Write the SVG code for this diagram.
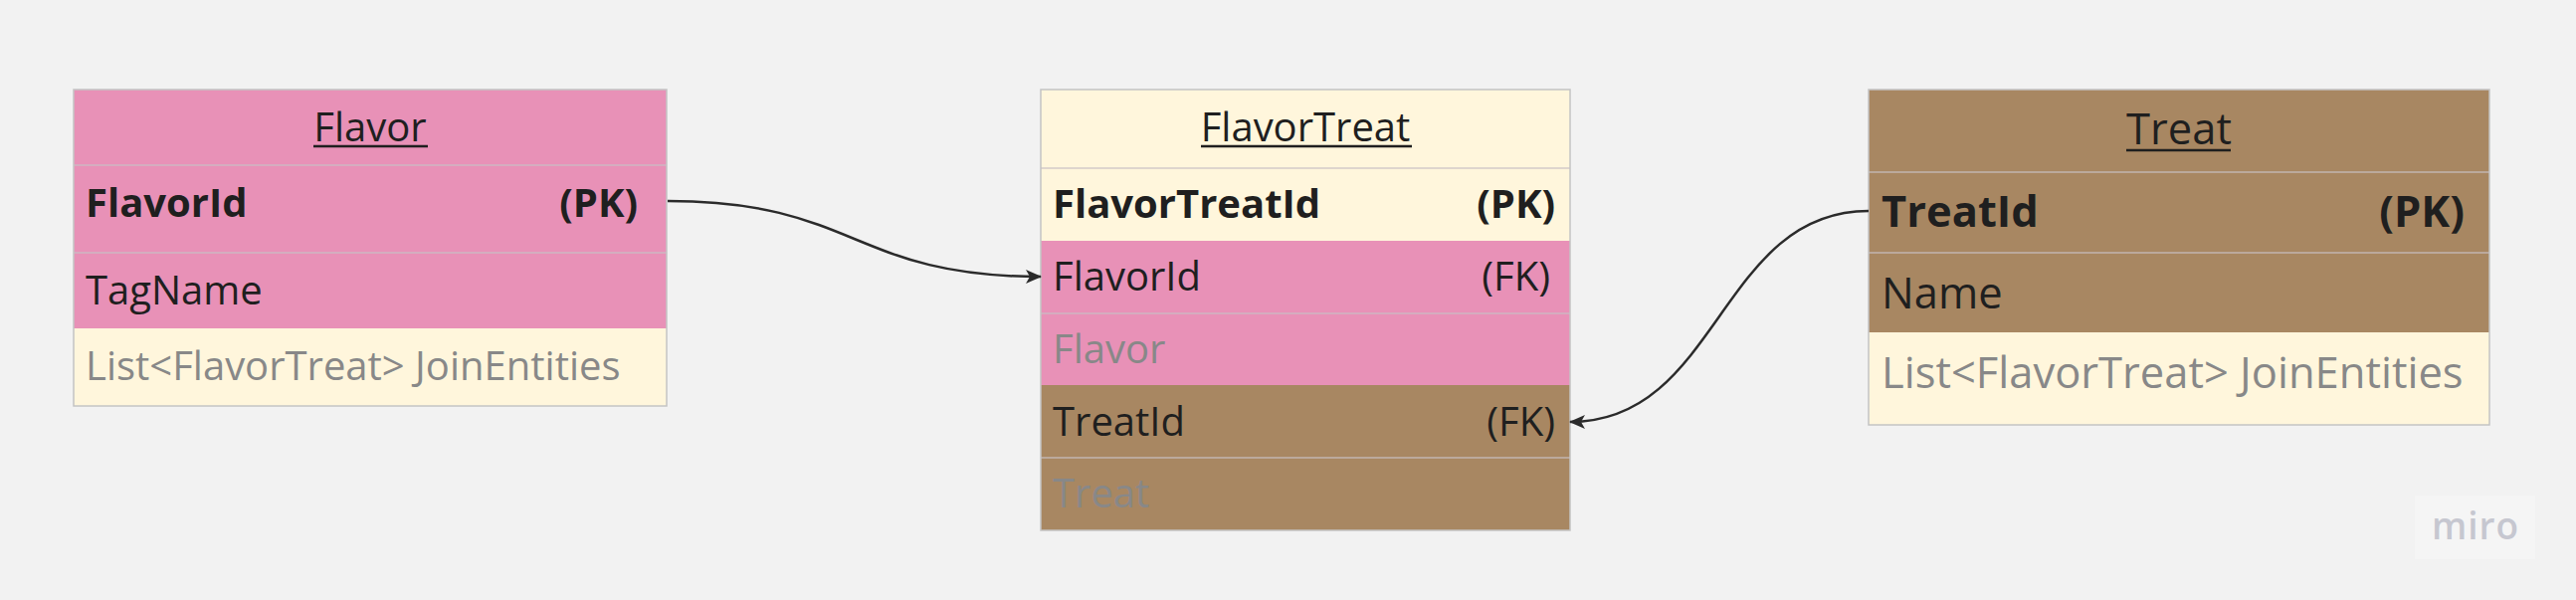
<svg xmlns="http://www.w3.org/2000/svg" width="2589" height="603" viewBox="0 0 2589 603">
<style>
.t{font-family:"Open Sans","Noto Sans","DejaVu Sans",sans-serif;fill:#1f1f1f}
.b{font-weight:700}
.g{fill:#888888}
.m{text-anchor:middle}
.e{text-anchor:end}
.f40{font-size:40px}
.f43{font-size:43.5px}
.pink{fill:#E891B7}
.cream{fill:#FFF6DC}
.brown{fill:#A88762}
.sep{stroke:#c8c0c4;stroke-width:1.5;opacity:0.8}
.bd{fill:none;stroke:#c4c4c4;stroke-width:1.5}
.ul{stroke:#1f1f1f;stroke-width:2.5}
.conn{fill:none;stroke:#2b2b2b;stroke-width:2.5}
</style>
<defs>
<marker id="arr" viewBox="0 0 16 16" refX="15" refY="8" markerWidth="16" markerHeight="16" markerUnits="userSpaceOnUse" orient="auto">
<path d="M0,1 L16,8 L0,15 L4,8 Z" fill="#2b2b2b"/>
</marker>
</defs>
<rect width="2589" height="603" fill="#F2F2F2"/>

<g id="flavor">
<rect class="pink" x="74" y="90" width="596" height="240"/>
<rect class="cream" x="74" y="330" width="596" height="78"/>
<line class="sep" x1="74" y1="166" x2="670" y2="166"/>
<line class="sep" x1="74" y1="254" x2="670" y2="254"/>
<rect class="bd" x="74" y="90" width="596" height="318"/>
<text class="t f40 m" x="372" y="142">Flavor</text>
<line class="ul" x1="315" y1="147" x2="430" y2="147"/>
<text class="t f40 b" x="86" y="218">FlavorId</text>
<text class="t f40 b e" x="641" y="218">(PK)</text>
<text class="t f40" x="86" y="306">TagName</text>
<text class="t f40 g" x="86" y="382">List&lt;FlavorTreat&gt; JoinEntities</text>
</g>

<g id="flavortreat">
<rect class="cream" x="1046" y="90" width="532" height="152"/>
<rect class="pink" x="1046" y="242" width="532" height="145"/>
<rect class="brown" x="1046" y="387" width="532" height="146"/>
<line class="sep" x1="1046" y1="169" x2="1578" y2="169"/>
<line class="sep" x1="1046" y1="315" x2="1578" y2="315"/>
<line class="sep" x1="1046" y1="460" x2="1578" y2="460"/>
<rect class="bd" x="1046" y="90" width="532" height="443"/>
<text class="t f40 m" x="1312" y="142">FlavorTreat</text>
<line class="ul" x1="1207" y1="147" x2="1419" y2="147"/>
<text class="t f40 b" x="1058" y="219">FlavorTreatId</text>
<text class="t f40 b e" x="1563" y="219">(PK)</text>
<text class="t f40" x="1058" y="292">FlavorId</text>
<text class="t f40 e" x="1558" y="292">(FK)</text>
<text class="t f40 g" x="1058" y="365">Flavor</text>
<text class="t f40" x="1058" y="438">TreatId</text>
<text class="t f40 e" x="1563" y="438">(FK)</text>
<text class="t f40 g" x="1058" y="510">Treat</text>
</g>

<g id="treat">
<rect class="brown" x="1878" y="90" width="624" height="244"/>
<rect class="cream" x="1878" y="334" width="624" height="93"/>
<line class="sep" x1="1878" y1="173" x2="2502" y2="173"/>
<line class="sep" x1="1878" y1="254" x2="2502" y2="254"/>
<rect class="bd" x="1878" y="90" width="624" height="337"/>
<text class="t f43 m" x="2190" y="145">Treat</text>
<line class="ul" x1="2137" y1="151" x2="2242" y2="151"/>
<text class="t f43 b" x="1891" y="228">TreatId</text>
<text class="t f43 b e" x="2477" y="228">(PK)</text>
<text class="t f43" x="1891" y="310">Name</text>
<text class="t f43 g" x="1891" y="390">List&lt;FlavorTreat&gt; JoinEntities</text>
</g>

<g id="connectors">
<path class="conn" d="M671,202 C861,202 856,278 1046,278" marker-end="url(#arr)"/>
<path class="conn" d="M1878,212 C1728,212 1728,424 1578,424" marker-end="url(#arr)"/>
</g>

<g id="watermark">
<rect x="2427" y="498" width="121" height="64" fill="#F5F5F5"/>
<text x="2488" y="542" text-anchor="middle" font-family="Open Sans, sans-serif" font-weight="600" font-size="37" fill="#C6C7D0" letter-spacing="1">miro</text>
</g>
</svg>
